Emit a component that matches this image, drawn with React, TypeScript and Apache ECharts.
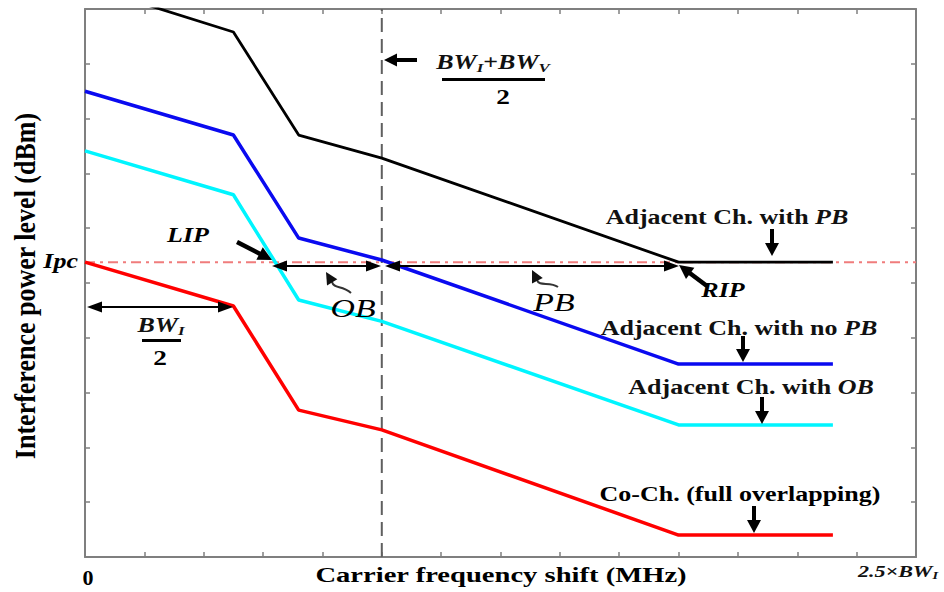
import React, { useEffect, useRef } from "react";
import * as echarts from "echarts";

// ---- data (schematic units: x in tick steps, y in tick steps) ----
const xMax = 14;
const yMax = 10;
const breakX = [0, 2.5, 3.6, 5.0, 10.0, 12.6];
const adjacentPB = [10.43, 9.58, 7.7, 7.28, 5.38, 5.38];
const adjacentNoPB = [8.5, 7.7, 5.82, 5.42, 3.52, 3.52];
const adjacentOB = [7.41, 6.61, 4.69, 4.3, 2.41, 2.41];
const coChannel = [5.38, 4.58, 2.68, 2.32, 0.4, 0.4];
const ipcLevel = 5.38;
const bandEdgeX = 5.0;

const SERIF = "'Liberation Serif','Times New Roman',Times,serif";
const SX = 1.3;

function pairs(ys: number[]) {
  return breakX.map((x, i) => [x, ys[i]]);
}

function txt(x: number, y: number, text: string, size: number, o: any = {}) {
  return {
    type: "text",
    x,
    y,
    z: 100,
    scaleX: o.scaleX ?? SX,
    scaleY: o.scaleY ?? 1,
    rotation: o.rotation ?? 0,
    style: {
      text,
      fontFamily: SERIF,
      fontSize: size,
      fontWeight: o.weight ?? "bold",
      fontStyle: o.italic ? "italic" : "normal",
      fill: o.fill ?? "#000",
      align: o.align ?? "center",
      verticalAlign: "middle",
      rich: o.rich,
    },
  };
}

function richSet(size: number, subSize: number) {
  return {
    b: { fontFamily: SERIF, fontSize: size, fontWeight: "bold", fontStyle: "italic", lineHeight: size + 4, fill: "#111" },
    n: { fontFamily: SERIF, fontSize: size, fontWeight: "bold", fontStyle: "normal", lineHeight: size + 4, fill: "#111" },
    s: { fontFamily: SERIF, fontSize: subSize, fontWeight: "bold", fontStyle: "italic", lineHeight: subSize - 3, verticalAlign: "bottom", fill: "#111" },
  };
}

function head(tx: number, ty: number, fx: number, fy: number, len: number, w: number, color = "#000") {
  const dx = tx - fx, dy = ty - fy;
  const L = Math.hypot(dx, dy) || 1;
  const ux = dx / L, uy = dy / L;
  const bx = tx - ux * len, by = ty - uy * len;
  const nx = -uy, ny = ux;
  return {
    type: "polygon",
    z: 90,
    shape: { points: [[tx, ty], [bx + (nx * w) / 2, by + (ny * w) / 2], [bx - (nx * w) / 2, by - (ny * w) / 2]] },
    style: { fill: color },
  };
}

function arrow(x1: number, y1: number, x2: number, y2: number, lw: number, len: number, w: number, color = "#000") {
  const dx = x2 - x1, dy = y2 - y1;
  const L = Math.hypot(dx, dy) || 1;
  const ex = x2 - (dx / L) * len * 0.8, ey = y2 - (dy / L) * len * 0.8;
  return [
    { type: "line", z: 90, shape: { x1, y1, x2: ex, y2: ey }, style: { stroke: color, lineWidth: lw } },
    head(x2, y2, x1, y1, len, w, color),
  ];
}

function dblArrow(x1: number, x2: number, y: number, lw: number, len: number, w: number) {
  return [
    { type: "line", z: 90, shape: { x1: x1 + len * 0.8, y1: y, x2: x2 - len * 0.8, y2: y }, style: { stroke: "#000", lineWidth: lw } },
    head(x1, y, x2, y, len, w),
    head(x2, y, x1, y, len, w),
  ];
}

function leader(tx: number, ty: number, fx: number, fy: number, ex: number, ey: number, c1: number[], c2: number[]) {
  return [
    { type: "bezierCurve", z: 90, shape: { x1: fx, y1: fy, x2: ex, y2: ey, cpx1: c1[0], cpy1: c1[1], cpx2: c2[0], cpy2: c2[1] }, style: { stroke: "#333", lineWidth: 2 } },
    { type: "line", z: 90, shape: { x1: fx, y1: fy, x2: tx + (fx - tx) * 0.4, y2: ty + (fy - ty) * 0.4 }, style: { stroke: "#333", lineWidth: 2 } },
    head(tx, ty, fx, fy, 12, 12, "#111"),
  ];
}

const AX = "#7f7f7f";

function axisCommon(pos: string, isX: boolean) {
  return {
    type: "value",
    position: pos,
    min: 0,
    max: isX ? xMax : yMax,
    interval: 1,
    axisLine: { show: true, onZero: false, lineStyle: { color: AX, width: 2 } },
    axisTick: { show: true, inside: true, length: 5, lineStyle: { color: AX, width: 1.5 } },
    axisLabel: { show: false },
    splitLine: { show: false },
  };
}

export default function App() {
  const ref = useRef<HTMLDivElement>(null);
  useEffect(() => {
    if (!ref.current) return;
    const chart = echarts.init(ref.current, undefined, { renderer: "svg" });

    const graphic: any[] = [
      // labels
      txt(78, 261, "Ipc", 20, { italic: true, align: "right" }),
      txt(188, 235, "LIP", 20, { italic: true }),
      txt(353, 308, "OB", 26, { italic: true, weight: "normal" }),
      txt(554, 302, "PB", 26, { italic: true, weight: "normal" }),
      txt(723, 290, "RIP", 20, { italic: true }),
      // BW_I / 2
      txt(161, 325, "{b|BW}{s|I}", 20, { rich: richSet(20, 13) }),
      { type: "rect", z: 90, shape: { x: 142, y: 339, width: 39, height: 3 }, style: { fill: "#000" } },
      txt(160, 358, "2", 21, {}),
      // (BW_I + BW_V) / 2
      txt(493, 62, "{b|BW}{s|I}{n|+}{b|BW}{s|V}", 20, { rich: richSet(20, 13) }),
      { type: "rect", z: 90, shape: { x: 442, y: 78, width: 103, height: 3 }, style: { fill: "#000" } },
      txt(503, 97, "2", 21, {}),
      // curve labels
      txt(727, 217, "{n|Adjacent Ch. with }{b|PB}", 20, { rich: richSet(20, 13) }),
      txt(739, 328, "{n|Adjacent Ch. with no }{b|PB}", 20, { rich: richSet(20, 13) }),
      txt(751, 387, "{n|Adjacent Ch. with }{b|OB}", 20, { rich: richSet(20, 13) }),
      txt(740, 494, "Co-Ch. (full overlapping)", 20, {}),
      // axis names & end labels
      txt(501, 575, "Carrier frequency shift (MHz)", 22, {}),
      txt(26, 286, "Interference power level (dBm)", 26, { rotation: Math.PI / 2, scaleX: 1, scaleY: 1.1 }),
      txt(88, 578, "0", 20, { scaleX: 1.1 }),
      txt(898, 571, "{b|2.5×BW}{s|I}", 17, { rich: richSet(17, 11) }),
      // arrows
      ...dblArrow(87, 233, 307, 2, 15, 11),
      ...dblArrow(272, 381, 266, 2, 15, 11),
      ...dblArrow(385, 679, 266, 2, 15, 11),
      ...arrow(237, 242, 272, 260, 4.5, 14, 14),
      ...arrow(707, 286, 679, 265, 4.5, 14, 14),
      ...arrow(417, 60, 384, 60, 4, 13, 13),
      ...arrow(772, 229, 772, 256, 4, 13, 14),
      ...arrow(743, 336, 743, 362, 4, 13, 14),
      ...arrow(762, 397, 762, 424, 4, 13, 14),
      ...arrow(754, 506, 754, 533, 4, 13, 14),
      // curly leaders
      ...leader(326, 272, 332, 282, 351, 293, [334, 289], [342, 285]),
      ...leader(532, 270, 537, 280, 558, 287, [539, 287], [550, 281]),
    ];

    chart.setOption({
      animation: false,
      backgroundColor: "#fff",
      grid: { left: 85, right: 28, top: 9, bottom: 35, containLabel: false },
      xAxis: [axisCommon("bottom", true), axisCommon("top", true)],
      yAxis: [axisCommon("left", false), axisCommon("right", false)],
      series: [
        {
          type: "line",
          data: [[bandEdgeX, 0], [bandEdgeX, yMax]],
          symbol: "none",
          silent: true,
          z: 1,
          lineStyle: { color: "#5f5f5f", width: 2, type: [14, 7] },
        },
        {
          type: "line",
          data: [[0, ipcLevel], [xMax, ipcLevel]],
          symbol: "none",
          silent: true,
          z: 2,
          lineStyle: { color: "#f07c7c", width: 2, type: [10, 5, 3, 5] },
        },
        { type: "line", data: pairs(coChannel), symbol: "none", z: 3, lineStyle: { color: "#ff0000", width: 3.5 } },
        { type: "line", data: pairs(adjacentOB), symbol: "none", z: 3, lineStyle: { color: "#00f5ff", width: 3.5 } },
        { type: "line", data: pairs(adjacentNoPB), symbol: "none", z: 3, lineStyle: { color: "#0a0af0", width: 3.5 } },
        { type: "line", data: pairs(adjacentPB), symbol: "none", z: 4, lineStyle: { color: "#000000", width: 2.8 } },
      ],
      graphic,
    });
    return () => chart.dispose();
  }, []);
  return (
    <div
      ref={ref}
      style={{ position: "fixed", left: 0, top: 0, width: 944, height: 592, background: "#fff" }}
    />
  );
}
